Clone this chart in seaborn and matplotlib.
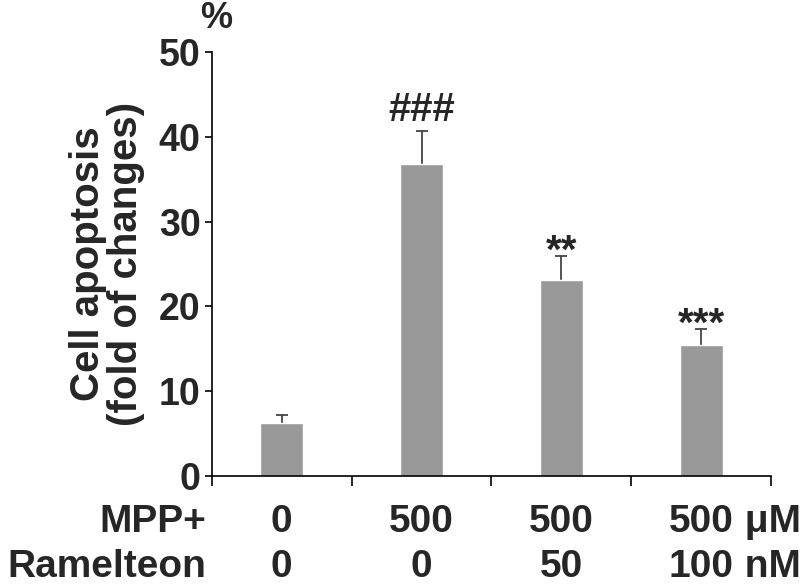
import matplotlib
matplotlib.use("Agg")
import matplotlib.pyplot as plt
import matplotlib.transforms as mtransforms
import pandas as pd
import seaborn as sns

# data
groups = ["Control", "MPP+", "MPP+ + Ram 50", "MPP+ + Ram 100"]
apoptosis = [6.3, 36.8, 23.1, 15.4]
sem = [0.9, 3.9, 2.8, 1.9]
marks = ["", "###", "**", "***"]
mpp_dose = ["0", "500", "500", "500"]
ram_dose = ["0", "0", "50", "100"]
mpp_unit = "μM"
ram_unit = "nM"

df = pd.DataFrame({"group": groups, "apoptosis": apoptosis})

sns.set_style("ticks")
plt.rcParams["font.family"] = ["Liberation Sans", "DejaVu Sans"]
plt.rcParams["font.weight"] = "bold"

fig = plt.figure(figsize=(8, 5.87), dpi=100)
ax = fig.add_axes([0.2646, 0.1891, 0.6995, 0.7223])

sns.barplot(data=df, x="group", y="apoptosis", color="#999999",
            width=0.31, errorbar=None, saturation=1, ax=ax, zorder=2)
# symmetric bars drawn behind the columns, so only the upper half shows
ax.errorbar(range(len(groups)), apoptosis, yerr=sem,
            fmt="none", ecolor="#444444", elinewidth=1.3, capsize=4.5,
            capthick=1.3, zorder=1)

ax.set_ylim(0, 50)
ax.set_xlim(-0.5, len(groups) - 0.5)
ax.set_yticks(range(0, 51, 10))
ax.set_xticks([i - 0.5 for i in range(len(groups) + 1)])
ax.set_xticklabels([])
ax.set_xlabel("")
ax.set_ylabel("Cell apoptosis\n(fold of changes)", fontsize=29,
              fontweight="bold", labelpad=10, linespacing=1.0)
for lab in ax.get_yticklabels():
    lab.set_fontsize(27)
    lab.set_fontweight("bold")
ax.tick_params(axis="y", length=5, width=1.2, pad=3, color="black")
ax.tick_params(axis="x", length=7, width=1.2, color="black")
for s in ["left", "bottom"]:
    ax.spines[s].set_linewidth(1.2)
    ax.spines[s].set_color("black")
sns.despine(ax=ax)

# significance marks
offsets = {"###": 10, "**": -6, "***": -6}
sizes = {"###": 29, "**": 29, "***": 29}
for i, m in enumerate(marks):
    if m:
        ax.annotate(m, xy=(i, apoptosis[i] + sem[i]), xytext=(0, offsets[m]),
                    textcoords="offset pixels", ha="center", va="baseline",
                    fontsize=sizes[m], fontweight="bold")

fig.text(216 / 800, 1 - 18 / 587, "%", fontsize=26, fontweight="bold",
         ha="center", va="center")

# treatment table under the axis
trans = mtransforms.blended_transform_factory(ax.transData, fig.transFigure)
row_y = [1 - 532 / 587, 1 - 577 / 587]
fig.text(206 / 800, row_y[0], "MPP+", fontsize=28, fontweight="bold",
         ha="right", va="baseline")
fig.text(206 / 800, row_y[1], "Ramelteon", fontsize=28, fontweight="bold",
         ha="right", va="baseline")
for row, doses, unit in [(0, mpp_dose, mpp_unit), (1, ram_dose, ram_unit)]:
    for i, d in enumerate(doses):
        t = ax.text(i, row_y[row], d, transform=trans, fontsize=28,
                    fontweight="bold", ha="center", va="baseline",
                    clip_on=False)
        if i == len(doses) - 1:
            ax.annotate(" " + unit, xy=(1, 0), xycoords=t, ha="left",
                        va="bottom", fontsize=28, fontweight="bold",
                        annotation_clip=False)

fig.savefig("out.png", dpi=100)
